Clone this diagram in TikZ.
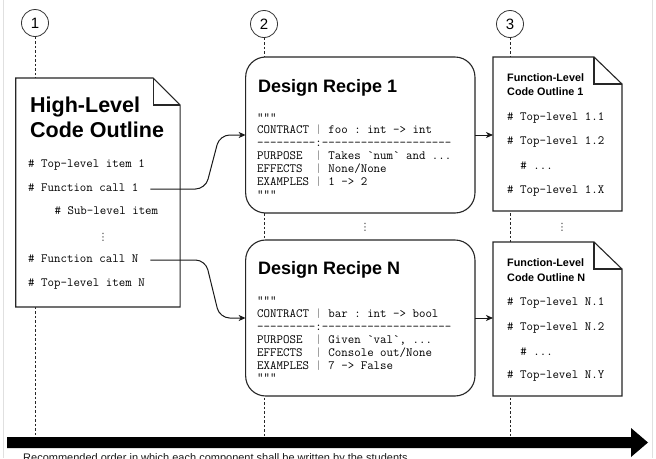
\documentclass[tikz,border=0pt]{standalone}
\usepackage{fontspec}
\setmainfont{Liberation Sans}
\newfontfamily\symfont{DejaVu Sans}
\usetikzlibrary{arrows.meta,calc}
\begin{document}
\begin{tikzpicture}[x=1pt,y=-1pt,
  boxline/.style={draw=black!85, line width=1.1pt},
  docnode/.style={inner sep=0pt, outer sep=0pt},
  recipe/.style={draw=black!85, line width=1.1pt, fill=white, rounded corners=20pt, inner sep=0pt, outer sep=0pt, minimum width=229.3pt, minimum height=156pt},
  code/.style={font=\ttfamily\fontsize{12.57}{14}\selectfont, inner sep=0pt, text height=7pt, text depth=2pt, anchor=west, text=black},
  bigtitle/.style={font=\bfseries\fontsize{21.5}{25}\selectfont, inner sep=0pt, anchor=base west},
  rtitle/.style={font=\bfseries\fontsize{18}{22}\selectfont, inner sep=0pt, anchor=base west},
  ftitle/.style={font=\bfseries\fontsize{10.8}{13}\selectfont, inner sep=0pt, anchor=base west},
  stepnum/.style={circle, draw=black!80, line width=0.8pt, minimum size=27pt, inner sep=0pt, fill=white, font=\fontsize{15}{15}\selectfont},
  timeline/.style={draw=black!85, line width=0.8pt, dash pattern=on 2.5pt off 2pt},
  conn/.style={draw=black!90, line width=1pt, -{Stealth[length=7pt,width=6pt,inset=2pt]}},
  vdot/.style={inner sep=0pt, font=\symfont\fontsize{10}{10}\selectfont, text=black!80}
]
\useasboundingbox (0,0) rectangle (656,458);
\clip (0,0) rectangle (656,458);
\fill[white] (0,0) rectangle (656,458);
% faint page borders
\draw[black!12, line width=1pt] (3,0) -- (3,458);
\draw[black!12, line width=1pt] (652,0) -- (652,458);

% step circles
\node[stepnum] (c1) at (35,23) {1};
\node[stepnum] (c2) at (264,24) {2};
\node[stepnum] (c3) at (510,24) {3};
\coordinate (bar) at (0,437);
\draw[timeline] (c1.south) -- (c1.south |- bar);
\draw[timeline] (c2.south) -- (c2.south |- bar);
\draw[timeline] (c3.south) -- (c3.south |- bar);

% High-level outline
\node[docnode, minimum width=164.3pt, minimum height=229pt] (hl) at (97.9,192.5) {};
\draw[boxline, fill=white] (hl.north west) -- ([xshift=-27pt]hl.north east) -- ([yshift=-27pt]hl.north east) -- (hl.south east) -- (hl.south west) -- cycle;
\draw[boxline] ([xshift=-27pt]hl.north east) -- ([xshift=-27pt,yshift=-27pt]hl.north east) -- ([yshift=-27pt]hl.north east);
\node[bigtitle] (hlt1) at (30,112) {High-Level};
\node[bigtitle] (hlt2) at (30,137) {Code Outline};
\node[code] (hl1) at (28,165) {\# Top-level item 1};
\node[code] (fc1) at (28,189) {\# Function call 1};
\node[code] (hl3) at (54.4,212) {\# Sub-level item};
\node[vdot] (hldots) at (103,237) {⋮};
\node[code] (fcN) at (28,260) {\# Function call N};
\node[code] (hl6) at (28,284) {\# Top-level item N};

% Design recipes
\node[recipe] (dr1) at (360.3,135) {};
\node[recipe] (drN) at (360.3,318) {};
\node[rtitle] (dr1t) at (258,92) {Design Recipe 1};
\node[rtitle] (drNt) at (258,274) {Design Recipe N};
\node[code] (a0) at (257,118.5) {"""};
\node[code] (a1) at (257,131.4) {CONTRACT~\textcolor{black!45}{|}~foo~:~int~->~int};
\node[code] (a2) at (257,144.3) {-{}-{}-{}-{}-{}-{}-{}-{}-{}:-{}-{}-{}-{}-{}-{}-{}-{}-{}-{}-{}-{}-{}-{}-{}-{}-{}-{}-{}-};
\node[code] (a3) at (257,157.2) {PURPOSE~~\textcolor{black!45}{|}~Takes~\symbol{96}num\symbol{96}~and~...};
\node[code] (a4) at (257,170.1) {EFFECTS~~\textcolor{black!45}{|}~None/None};
\node[code] (a5) at (257,183) {EXAMPLES~\textcolor{black!45}{|}~1~->~2};
\node[code] (a6) at (257,195.9) {"""};
\node[code] (b0) at (257,302) {"""};
\node[code] (b1) at (257,314.9) {CONTRACT~\textcolor{black!45}{|}~bar~:~int~->~bool};
\node[code] (b2) at (257,327.8) {-{}-{}-{}-{}-{}-{}-{}-{}-{}:-{}-{}-{}-{}-{}-{}-{}-{}-{}-{}-{}-{}-{}-{}-{}-{}-{}-{}-{}-};
\node[code] (b3) at (257,340.7) {PURPOSE~~\textcolor{black!45}{|}~Given~\symbol{96}val\symbol{96},~...};
\node[code] (b4) at (257,353.6) {EFFECTS~~\textcolor{black!45}{|}~Console~out/None};
\node[code] (b5) at (257,366.5) {EXAMPLES~\textcolor{black!45}{|}~7~->~False};
\node[code] (b6) at (257,379.4) {"""};
\node[vdot] (mdots) at (365,227) {⋮};

% Function-level outlines
\node[docnode, minimum width=129pt, minimum height=154pt] (fl1) at (557.5,134) {};
\node[docnode, minimum width=129pt, minimum height=154pt] (flN) at (557.5,319) {};
\foreach \d in {fl1,flN}{
  \draw[boxline, fill=white] (\d.north west) -- ([xshift=-28pt]\d.north east) -- ([yshift=-27pt]\d.north east) -- (\d.south east) -- (\d.south west) -- cycle;
  \draw[boxline] ([xshift=-28pt]\d.north east) -- ([xshift=-28pt,yshift=-27pt]\d.north east) -- ([yshift=-27pt]\d.north east);
}
\node[ftitle] (f1t1) at (507,81) {Function-Level};
\node[ftitle] (f1t2) at (507,95) {Code Outline 1};
\node[code] (f11) at (507,118) {\# Top-level 1.1};
\node[code] (f12) at (507,142) {\# Top-level 1.2};
\node[code] (f13) at (520.2,167) {\# ...};
\node[code] (f14) at (507,191) {\# Top-level 1.X};
\node[ftitle] (fNt1) at (507,266) {Function-Level};
\node[ftitle] (fNt2) at (507,281) {Code Outline N};
\node[code] (fN1) at (507,303) {\# Top-level N.1};
\node[code] (fN2) at (507,328) {\# Top-level N.2};
\node[code] (fN3) at (520.2,353) {\# ...};
\node[code] (fN4) at (507,376) {\# Top-level N.Y};
\node[vdot] (rdots) at (562,227) {⋮};

% connectors
\draw[conn, rounded corners=10pt] ([xshift=12pt]fc1.east) -- ++(55,0) -- ([xshift=-26pt]dr1.west) -- (dr1.west);
\draw[conn, rounded corners=10pt] ([xshift=12pt]fcN.east) -- ++(55,0) -- ([xshift=-26pt]drN.west) -- (drN.west);
\draw[conn] (dr1.east) -- (dr1.east -| fl1.west);
\draw[conn] (drN.east) -- (drN.east -| flN.west);

% big arrow
\fill[black] (7,437) -- (631,437) -- (631,428) -- (648,442.5) -- (631,457) -- (631,448) -- (7,448) -- cycle;
\node[inner sep=0pt, anchor=base west, font=\fontsize{11}{13}\selectfont, text=black!90] (caption) at (23,461) {Recommended order in which each component shall be written by the students.};
\end{tikzpicture}
\end{document}
